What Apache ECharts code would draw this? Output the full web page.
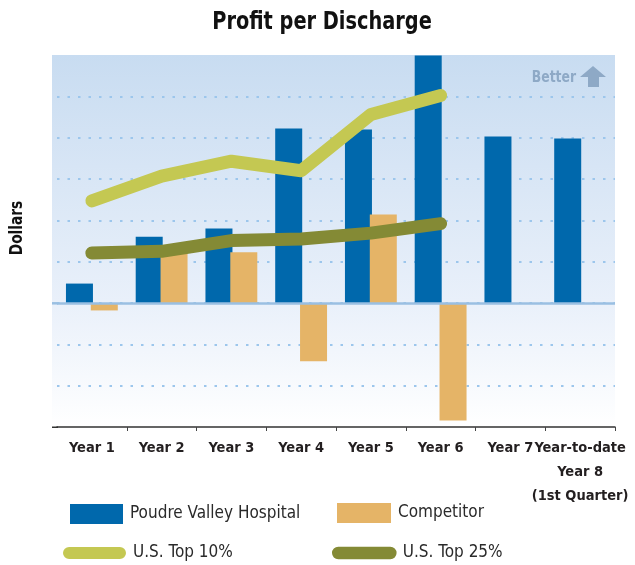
<!DOCTYPE html>
<html>
<head>
<meta charset="utf-8">
<script src="https://cdn.jsdelivr.net/npm/echarts@6/dist/echarts.min.js"></script>
<style>
html,body{margin:0;padding:0;background:#fff;}
#chart{width:635px;height:565px;}
</style>
</head>
<body>
<div id="chart"></div>
<script>
const categories = ['Year 1','Year 2','Year 3','Year 4','Year 5','Year 6','Year 7','Year-to-date\nYear 8\n(1st Quarter)'];
const pvh = [0.47, 1.60, 1.80, 4.22, 4.20, 5.99, 4.03, 3.98];
const competitor = [-0.18, 1.22, 1.23, -1.41, 2.14, -2.84, null, null];
const top10 = [2.47, 3.07, 3.43, 3.20, 4.56, 5.02, null, null];
const top25 = [1.21, 1.25, 1.51, 1.55, 1.69, 1.92, null, null];

const FONT = '"Liberation Sans Narrow","DejaVu Sans Condensed",sans-serif';
const BLUE = '#0068AC', ORANGE = '#E5B467', LGREEN = '#C4C852', OLIVE = '#848A35';
const capsule = 'path://M6,0 L56,0 A6,6 0 0 1 56,12 L6,12 A6,6 0 0 1 6,0 Z';
const bgGradient = {type: 'linear', x: 0, y: 0, x2: 0, y2: 1,
  colorStops: [{offset: 0, color: '#C8DCF1'}, {offset: 0.66, color: '#E9F0FA'}, {offset: 1, color: '#FFFFFF'}]};

const chart = echarts.init(document.getElementById('chart'));
const legendText = {fontFamily: FONT, fontSize: 17, lineHeight: 20, color: '#2A2A2A', padding: [0, 0, 0, 2]};
chart.setOption({
  animation: false,
  legend: [
    {data: ['Poudre Valley Hospital'], left: 70, top: 504, padding: 0, itemWidth: 53, itemHeight: 20, textStyle: legendText, icon: 'rect', selectedMode: false},
    {data: ['Competitor'], left: 337, top: 503, padding: 0, itemWidth: 54, itemHeight: 20, textStyle: legendText, icon: 'rect', selectedMode: false},
    {data: [{name: 'U.S. Top 10%', icon: capsule}], left: 63, top: 543, padding: 0, itemWidth: 63, itemHeight: 12.5, textStyle: legendText, selectedMode: false},
    {data: [{name: 'U.S. Top 25%', icon: capsule}], left: 332, top: 543, padding: 0, itemWidth: 65, itemHeight: 12.5, textStyle: Object.assign({}, legendText, {padding: [0, 0, 0, 1]}), selectedMode: false}
  ],
  grid: {
    left: 57, right: 20, top: 55, bottom: 138, show: true, borderWidth: 0,
    backgroundColor: bgGradient
  },
  xAxis: {
    type: 'category', data: categories,
    axisLine: {onZero: false, lineStyle: {color: '#333', width: 1.5}},
    axisTick: {show: true, length: 4, interval: function (i) { return i !== 0; }, lineStyle: {color: '#444'}},
    axisLabel: {fontFamily: FONT, fontWeight: 'bold', fontSize: 14.5, color: '#231F20', margin: 9, lineHeight: 24, interval: 0}
  },
  yAxis: {
    type: 'value', min: -3, max: 6, interval: 1,
    axisLabel: {show: false}, axisLine: {show: false}, axisTick: {show: false},
    splitLine: {showMinLine: false, showMaxLine: false, lineStyle: {color: '#9CC6EC', width: 2, type: [2.5, 8]}}
  },
  graphic: [
    {type: 'rect', z: -10, shape: {x: 52, y: 55, width: 6, height: 372}, style: {fill: bgGradient}},
    {type: 'line', shape: {x1: 52, y1: 427.25, x2: 58, y2: 427.25}, style: {stroke: '#333', lineWidth: 1.5}},
    {type: 'line', shape: {x1: 52, y1: 303.3, x2: 58, y2: 303.3}, style: {stroke: '#9ABFE2', lineWidth: 2.5}},
    {type: 'text', x: 322, y: 22, scaleX: 0.86,
      style: {text: 'Profit per Discharge', fontFamily: FONT, fontWeight: 'bold', fontSize: 25, fill: '#111', align: 'center', verticalAlign: 'middle'}},
    {type: 'text', x: 18, y: 228, rotation: Math.PI / 2, scaleX: 0.9,
      style: {text: 'Dollars', fontFamily: FONT, fontWeight: 'bold', fontSize: 17, fill: '#111', align: 'center', verticalAlign: 'middle'}},
    {type: 'text', x: 576, y: 78, scaleX: 0.86,
      style: {text: 'Better', fontFamily: FONT, fontWeight: 'bold', fontSize: 16, fill: '#8EA9C6', align: 'right', verticalAlign: 'middle'}},
    {type: 'polygon', shape: {points: [[593, 66], [606, 77], [599, 77], [599, 87], [588, 87], [588, 77], [580, 77]]},
      style: {fill: '#8EA9C6'}}
  ],
  series: [
    {name: 'Poudre Valley Hospital', type: 'bar', data: pvh, barWidth: 27, barGap: '-8%', itemStyle: {color: BLUE},
      markLine: {silent: true, symbol: 'none', label: {show: false}, data: [{yAxis: 0}], lineStyle: {color: '#9ABFE2', width: 2.5, type: 'solid'}}},
    {name: 'Competitor', type: 'bar', data: competitor, barWidth: 27, itemStyle: {color: ORANGE}},
    {name: 'U.S. Top 10%', type: 'line', data: top10, showSymbol: false, symbol: 'none', itemStyle: {color: LGREEN},
      lineStyle: {color: LGREEN, width: 13, cap: 'round', join: 'round'}, z: 5},
    {name: 'U.S. Top 25%', type: 'line', data: top25, showSymbol: false, symbol: 'none', itemStyle: {color: OLIVE},
      lineStyle: {color: OLIVE, width: 13, cap: 'round', join: 'round'}, z: 5}
  ]
});
</script>
</body>
</html>
